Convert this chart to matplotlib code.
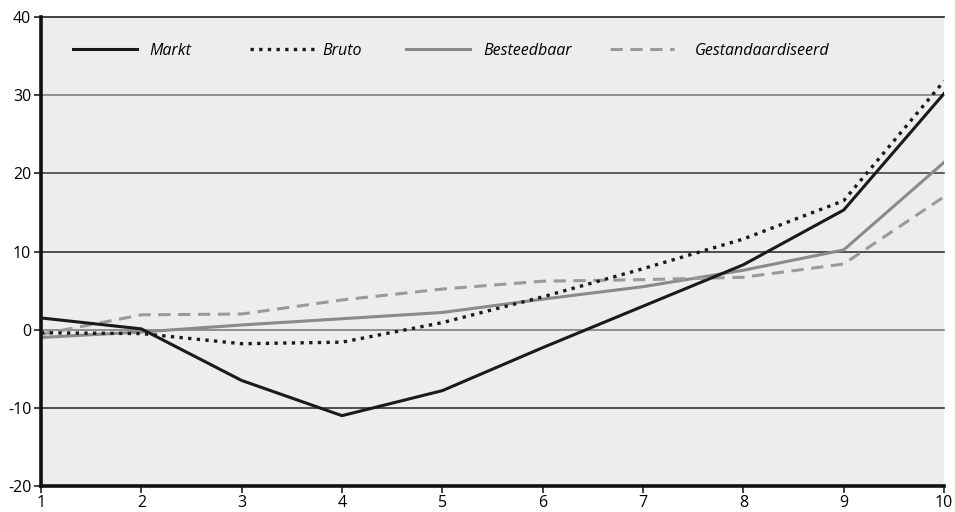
import matplotlib
matplotlib.use("Agg")
import matplotlib.pyplot as plt
from matplotlib.legend import Legend

x = [1, 2, 3, 4, 5, 6, 7, 8, 9, 10]
markt = [1.5, 0.1, -6.5, -11.0, -7.8, -2.3, 3.0, 8.3, 15.3, 30.2]
bruto = [-0.4, -0.5, -1.8, -1.6, 0.9, 4.2, 7.8, 11.6, 16.5, 31.8]
besteedbaar = [-1.0, -0.3, 0.6, 1.4, 2.2, 3.9, 5.5, 7.6, 10.2, 21.4]
gestand = [-0.6, 1.9, 2.0, 3.8, 5.2, 6.2, 6.4, 6.7, 8.4, 17.0]
yticks = [-20, -10, 0, 10, 20, 30, 40]

plt.rcParams['font.family'] = ['Open Sans', 'DejaVu Sans']
plt.rcParams['axes.unicode_minus'] = False

fig = plt.figure(figsize=(9.55, 5.12), dpi=100)
ax = fig.add_axes([41/955, 1-486/512, (944-41)/955, (486-17)/512])
ax.set_facecolor('#ededed')

grid_colors = {-10: '#333333', 0: '#808080', 10: '#333333', 20: '#444444', 30: '#808080', 40: '#222222'}
for v, c in grid_colors.items():
    ax.axhline(v, color=c, lw=1.2, zorder=1, clip_on=False)

lines = []
lines += ax.plot(x, markt, color='#1a1a1a', lw=2.2, label='Markt', zorder=3)
lines += ax.plot(x, bruto, color='#1a1a1a', lw=2.4, linestyle=(0, (1, 1.6)), label='Bruto', zorder=3)
lines += ax.plot(x, besteedbaar, color='#8a8a8a', lw=2.2, label='Besteedbaar', zorder=2)
lines += ax.plot(x, gestand, color='#9a9a9a', lw=2.2, linestyle=(0, (4, 2.5)), label='Gestandaardiseerd', zorder=2)

ax.set_xlim(1, 10)
ax.set_ylim(-20, 40)
ax.set_xticks(x)
ax.set_yticks(yticks)
ax.tick_params(axis='both', labelsize=11.5, length=5, width=1.2, color='#222222', pad=2)
ax.tick_params(axis='x', pad=1.5)
for s in ['top', 'right']:
    ax.spines[s].set_visible(False)
for s in ['left', 'bottom']:
    ax.spines[s].set_linewidth(2.6)
    ax.spines[s].set_color('#111111')

leg_x = [0.0354, 0.2315, 0.4042, 0.630]
leg_pad = [0.8, 0.55, 0.85, 1.3]
for ln, lx, pd in zip(lines, leg_x, leg_pad):
    lg = Legend(ax, [ln], [ln.get_label()], loc='center left', bbox_to_anchor=(lx, 0.9275),
                frameon=False, borderpad=0, borderaxespad=0,
                handlelength=4.0, handletextpad=pd,
                prop={'style': 'italic', 'size': 11.5})
    ax.add_artist(lg)

fig.savefig('out.png', dpi=100)
